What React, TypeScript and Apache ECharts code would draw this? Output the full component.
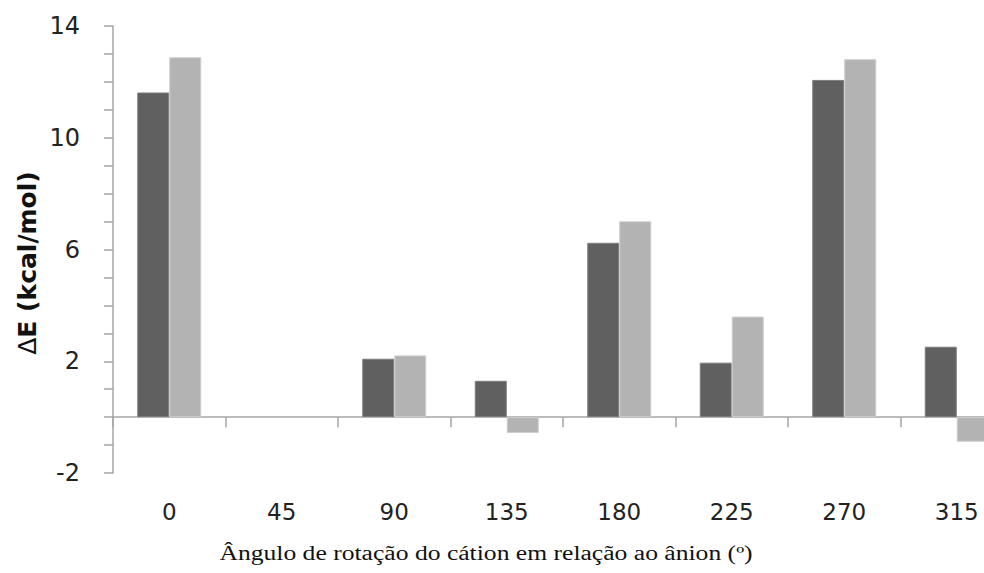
import React, { useEffect, useRef } from "react";
import * as echarts from "echarts";

const categories = ["0", "45", "90", "135", "180", "225", "270", "315"];
const seriesDark = [11.62, null, 2.09, 1.3, 6.24, 1.95, 12.07, 2.52];
const seriesLight = [12.88, null, 2.21, -0.57, 7.01, 3.6, 12.81, -0.88];
const yMin = -2;
const yMax = 14;
const yInterval = 4;
const xTitle = "Ângulo de rotação do cátion em relação ao ânion (º)";
const yTitle = "{d|Δ}{b|E (kcal/mol)}";

export default function App() {
  const ref = useRef<HTMLDivElement>(null);
  useEffect(() => {
    document.body.style.margin = "0";
    const chart = echarts.init(ref.current!, null, { renderer: "svg" });
    const axisColor = "#a6a6a6";
    chart.setOption({
      animation: false,
      backgroundColor: "#ffffff",
      grid: { left: 113, right: 0, top: 26, bottom: 100, containLabel: false },
      xAxis: [
        {
          type: "category",
          data: categories,
          position: "bottom",
          axisLine: { show: false, onZero: false },
          axisTick: { show: false },
          axisLabel: {
            margin: 27,
            fontFamily: "DejaVu Sans",
            fontSize: 23,
            color: "#222",
          },
        },
        {
          type: "category",
          data: categories,
          position: "bottom",
          axisLine: { show: true, onZero: true, lineStyle: { color: axisColor, width: 1.5 } },
          axisTick: { show: true, length: 10, lineStyle: { color: axisColor, width: 1.5 } },
          axisLabel: { show: false },
        },
      ],
      yAxis: {
        type: "value",
        min: yMin,
        max: yMax,
        interval: yInterval,
        axisLine: { show: true, lineStyle: { color: axisColor, width: 1.5 } },
        axisTick: { show: true, length: 9, lineStyle: { color: axisColor, width: 1.5 } },
        minorTick: { show: true, splitNumber: 4, length: 9, lineStyle: { color: axisColor, width: 1.5 } },
        splitLine: { show: false },
        minorSplitLine: { show: false },
        axisLabel: {
          margin: 33,
          fontFamily: "DejaVu Sans",
          fontSize: 24,
          color: "#222",
        },
      },
      graphic: [
        {
          type: "text",
          x: 486,
          y: 553,
          scaleX: 1.28,
          style: {
            text: xTitle,
            fontFamily: "Liberation Serif",
            fontSize: 20,
            fill: "#111",
            align: "center",
            verticalAlign: "middle",
          },
        },
        {
          type: "text",
          x: 27,
          y: 263,
          rotation: Math.PI / 2,
          style: {
            text: yTitle,
            align: "center",
            verticalAlign: "middle",
            fill: "#111",
            rich: {
              d: { fontFamily: "DejaVu Sans", fontSize: 25, fontWeight: "normal", fill: "#111" },
              b: { fontFamily: "DejaVu Sans", fontSize: 25, fontWeight: "bold", fill: "#111" },
            },
          },
        },
      ],
      series: [
        {
          type: "bar",
          xAxisIndex: 0,
          data: seriesDark,
          barWidth: 32,
          barGap: "0%",
          itemStyle: { color: "#606060", borderColor: "#7c7c7c", borderWidth: 1 },
        },
        {
          type: "bar",
          xAxisIndex: 0,
          data: seriesLight,
          barWidth: 32,
          barGap: "0%",
          itemStyle: { color: "#b3b3b3", borderColor: "#cdcdcd", borderWidth: 1 },
        },
      ],
    });
    return () => chart.dispose();
  }, []);
  return (
    <div style={{ width: 984, height: 573, overflow: "hidden" }}>
      <div ref={ref} style={{ width: 1013, height: 573 }} />
    </div>
  );
}
